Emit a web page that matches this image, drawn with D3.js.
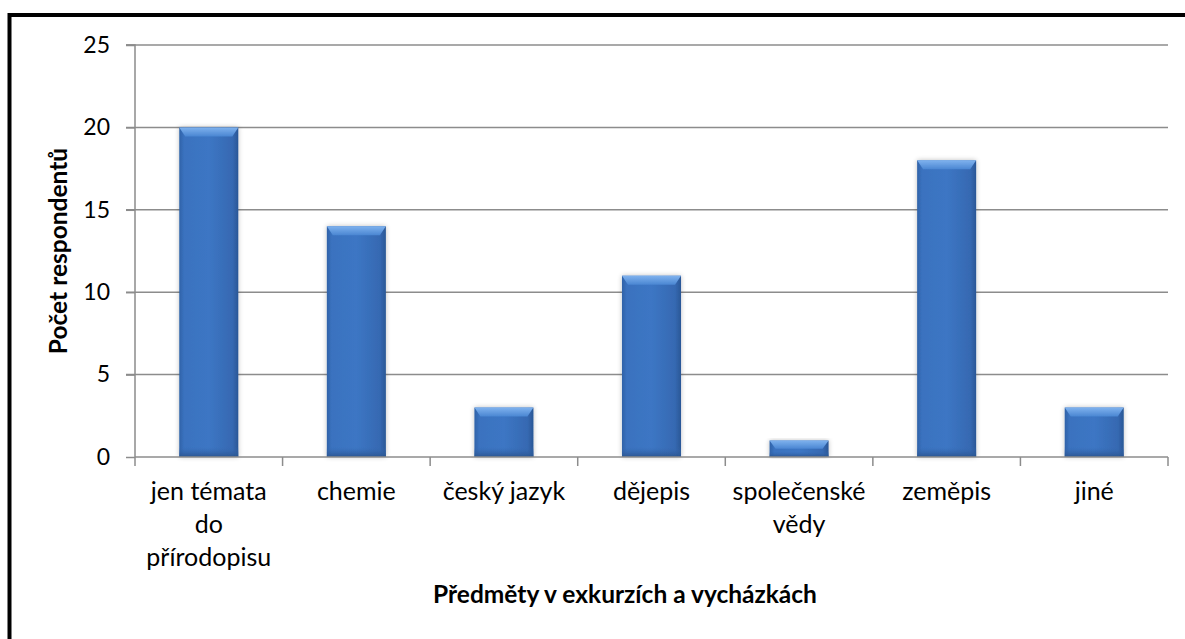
<!DOCTYPE html>
<html><head><meta charset="utf-8">
<script src="https://cdn.jsdelivr.net/npm/d3@7"></script>
<style>html,body{margin:0;padding:0;background:#fff;overflow:hidden}</style>
</head><body>
<svg id="c" width="1185" height="639"></svg>
<script>
const categories = ["jen témata do přírodopisu","chemie","český jazyk","dějepis","společenské vědy","zeměpis","jiné"];
const categoryLines = [["jen témata","do","přírodopisu"],["chemie"],["český jazyk"],["dějepis"],["společenské","vědy"],["zeměpis"],["jiné"]];
const values = [20,14,3,11,1,18,3];
const yTicks = [0,5,10,15,20,25];
const xTitle = "Předměty v exkurzích a vycházkách";
const yTitle = "Počet respondentů";

const svg = d3.select("#c");
const font = "Lato, 'Open Sans', sans-serif";
const L = 135, R = 1168, T = 45, B = 457;

// outer frame
svg.append("rect").attr("x",9.5).attr("y",15).attr("width",1200).attr("height",700)
  .attr("fill","none").attr("stroke","#000").attr("stroke-width",4);

const x = d3.scaleBand().domain(categories).range([L,R]).paddingInner(0.6).paddingOuter(0.3);
const y = d3.scaleLinear().domain([0,25]).range([B,T]);

const defs = svg.append("defs");
const g1 = defs.append("linearGradient").attr("id","barH").attr("x1",0).attr("x2",1).attr("y1",0).attr("y2",0);
[[0,"#2f62a8"],[0.08,"#3a72bf"],[0.5,"#3c76c4"],[0.9,"#3669b2"],[1,"#2a5796"]].forEach(s=>g1.append("stop").attr("offset",s[0]).attr("stop-color",s[1]));
const g2 = defs.append("linearGradient").attr("id","barTop").attr("x1",0).attr("x2",0).attr("y1",0).attr("y2",1);
[[0,"#7fb2ee"],[1,"#4a86d2"]].forEach(s=>g2.append("stop").attr("offset",s[0]).attr("stop-color",s[1]));
const g3 = defs.append("linearGradient").attr("id","barBot").attr("x1",0).attr("x2",0).attr("y1",0).attr("y2",1);
[[0,"#3669b2",0],[1,"#2a5590",1]].forEach(s=>g3.append("stop").attr("offset",s[0]).attr("stop-color",s[1]).attr("stop-opacity",s[2]));
const flt = defs.append("filter").attr("id","sh").attr("x","-20%").attr("y","-10%").attr("width","140%").attr("height","120%");
flt.append("feGaussianBlur").attr("in","SourceAlpha").attr("stdDeviation",2.5).attr("result","b");
flt.append("feComponentTransfer").attr("in","b").attr("result","b2").append("feFuncA").attr("type","linear").attr("slope",0.25);
const fm = flt.append("feMerge"); fm.append("feMergeNode").attr("in","b2"); fm.append("feMergeNode").attr("in","SourceGraphic");

// gridlines
svg.append("g").selectAll("line").data(yTicks.filter(d=>d>0)).join("line")
  .attr("x1",L-9).attr("x2",R).attr("y1",d=>y(d)).attr("y2",d=>y(d))
  .attr("stroke","#8c8c8c").attr("stroke-width",1.5);

// y axis
const ya = svg.append("g").attr("transform",`translate(${L},0)`)
  .call(d3.axisLeft(y).tickValues(yTicks).tickSize(9).tickPadding(16));
ya.select(".domain").attr("stroke","#8c8c8c").attr("stroke-width",1.5).attr("d",`M-9,${T}H0V${B}`);
ya.selectAll(".tick line").attr("stroke","#8c8c8c").attr("stroke-width",1.5);
ya.selectAll("text").attr("font-family",font).attr("font-size",23).attr("fill","#000");

// bars
const bars = svg.append("g").selectAll("g").data(categories).join("g").attr("filter","url(#sh)");
bars.append("rect").attr("x",d=>x(d)).attr("y",(d,i)=>y(values[i])).attr("width",x.bandwidth())
  .attr("height",(d,i)=>B-y(values[i])).attr("fill","url(#barH)");
bars.append("rect").attr("x",d=>x(d)).attr("y",(d,i)=>B-Math.min(10,(B-y(values[i]))/3)).attr("width",x.bandwidth())
  .attr("height",(d,i)=>Math.min(10,(B-y(values[i]))/3)).attr("fill","url(#barBot)");
bars.append("path").attr("d",(d,i)=>{
  const x0=x(d), w=x.bandwidth(), y0=y(values[i]), h=Math.min(9,(B-y0)/2);
  return `M${x0},${y0}H${x0+w}L${x0+w-6},${y0+h}H${x0+6}Z`;
}).attr("fill","url(#barTop)");

// x axis
svg.append("line").attr("x1",L).attr("x2",R).attr("y1",B).attr("y2",B).attr("stroke","#8c8c8c").attr("stroke-width",1.5);
const bounds = d3.range(categories.length+1).map(i=>L+i*(R-L)/categories.length);
svg.append("g").selectAll("line").data(bounds).join("line")
  .attr("x1",d=>d).attr("x2",d=>d).attr("y1",B).attr("y2",B+9).attr("stroke","#8c8c8c").attr("stroke-width",1.5);

const xl = svg.append("g").selectAll("text").data(categories).join("text")
  .attr("x",d=>x(d)+x.bandwidth()/2).attr("y",500)
  .attr("text-anchor","middle").attr("font-family",font).attr("font-size",25).attr("fill","#000");
xl.each(function(d,i){
  d3.select(this).selectAll("tspan").data(categoryLines[i]).join("tspan")
    .attr("x",x(d)+x.bandwidth()/2).attr("dy",(t,j)=>j===0?0:33).text(t=>t);
});

// titles
svg.append("text").attr("x",625).attr("y",603).attr("text-anchor","middle")
  .attr("font-family",font).attr("font-weight","bold").attr("font-size",24.5).text(xTitle);
svg.append("text").attr("transform","translate(67,251) rotate(-90)").attr("text-anchor","middle")
  .attr("font-family",font).attr("font-weight","bold").attr("font-size",24.5).text(yTitle);
</script>
</body></html>
